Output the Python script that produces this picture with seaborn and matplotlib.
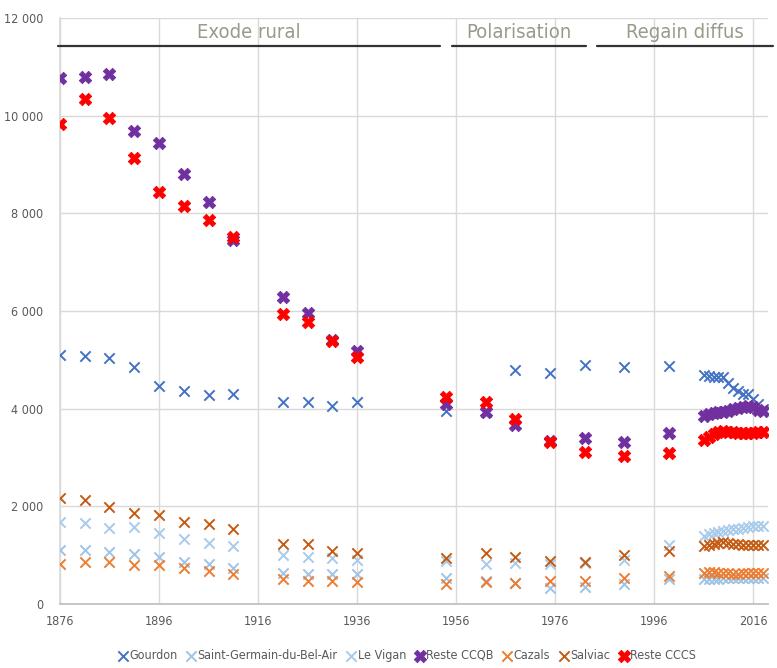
import matplotlib
matplotlib.use("Agg")
import matplotlib.pyplot as plt
from matplotlib import font_manager
from matplotlib.ticker import FuncFormatter
import pandas as pd
import seaborn as sns

years = [1876, 1881, 1886, 1891, 1896, 1901, 1906, 1911, 1921, 1926, 1931, 1936,
         1954, 1962, 1968, 1975, 1982, 1990, 1999,
         2006, 2007, 2008, 2009, 2010, 2011, 2012, 2013, 2014, 2015, 2016, 2017, 2018]

gourdon = [5100, 5085, 5030, 4860, 4460, 4360, 4280, 4300, 4135, 4130, 4060, 4130,
           3960, 3940, 4800, 4735, 4895, 4850, 4875,
           4690, 4660, 4640, 4650, 4640, 4530, 4430, 4360, 4300, 4310, 4200, 4090, 4000]
saint_germain = [1105, 1105, 1070, 1025, 970, 865, 815, 745, 630, 615, 615, 615,
                 525, 470, 425, 320, 340, 405, 505,
                 510, 515, 520, 520, 525, 525, 530, 530, 535, 535, 540, 540, 540]
le_vigan = [1685, 1650, 1565, 1570, 1460, 1330, 1255, 1190, 1005, 970, 935, 900,
            880, 815, 845, 815, 840, 900, 1210,
            1400, 1430, 1455, 1480, 1500, 1515, 1530, 1545, 1560, 1575, 1590, 1600, 1590]
reste_ccqb = [10770, 10785, 10850, 9690, 9435, 8805, 8240, 7455, 6280, 5955, 5405, 5180,
              4100, 3940, 3665, 3330, 3395, 3325, 3495,
              3860, 3900, 3920, 3930, 3930, 3950, 3990, 4010, 4040, 4050, 4030, 3980, 3960]
cazals = [820, 855, 865, 800, 800, 745, 675, 610, 505, 470, 480, 455,
          405, 455, 440, 470, 480, 540, 570,
          640, 650, 650, 640, 635, 625, 620, 620, 625, 630, 630, 625, 625]
salviac = [2170, 2130, 1995, 1855, 1825, 1685, 1640, 1535, 1230, 1220, 1085, 1050,
           935, 1040, 970, 885, 855, 1005, 1085,
           1190, 1210, 1230, 1250, 1260, 1250, 1230, 1220, 1210, 1210, 1210, 1210, 1200]
reste_cccs = [9825, 10335, 9960, 9130, 8445, 8150, 7865, 7520, 5940, 5780, 5385, 5065,
              4235, 4145, 3780, 3325, 3120, 3030, 3085,
              3360, 3420, 3490, 3530, 3550, 3530, 3520, 3510, 3500, 3500, 3510, 3520, 3530]

series_names = ["Gourdon", "Saint-Germain-du-Bel-Air", "Le Vigan", "Reste CCQB",
                "Cazals", "Salviac", "Reste CCCS"]
series_values = [gourdon, saint_germain, le_vigan, reste_ccqb, cazals, salviac, reste_cccs]
colors = ["#4472C4", "#9DC3E6", "#A9CBEB", "#7030A0", "#ED7D31", "#C55A11", "#FF0000"]
bold = [False, False, False, True, False, False, True]

phases = ["Exode rural", "Polarisation", "Regain diffus"]
phase_start = [1875.6, 1955.2, 1984.5]
phase_end = [1952.8, 1982.3, 2020.0]

# long table for seaborn
df = pd.concat([pd.DataFrame({"year": years, "pop": v, "serie": n})
                for n, v in zip(series_names, series_values)], ignore_index=True)

sns.set_theme(style="white")


def find_narrow_font():
    # pick a condensed face if one is installed
    paths = [f.fname for f in font_manager.fontManager.ttflist]
    for key in ["LiberationSansNarrow-Regular", "LiberationSansNarrow", "DejaVuSansCondensed.",
                "RobotoCondensed-Regular", "OpenSans_Condensed-Regular", "OpenSansCondensed"]:
        for p in paths:
            if key in p.split("/")[-1]:
                return p
    return None


narrow = find_narrow_font()
if narrow:
    prop = font_manager.FontProperties(fname=narrow)
else:
    prop = font_manager.FontProperties(family="DejaVu Sans", stretch="condensed")
plt.rcParams["font.family"] = ["DejaVu Sans"]

fig = plt.figure(figsize=(7.77, 6.68), dpi=100)
ax = fig.add_axes([0.0772, 0.0958, 0.9112, 0.8772])

for name, col, b in zip(series_names, colors, bold):
    sub = df[df["serie"] == name]
    if b:
        sns.scatterplot(data=sub, x="year", y="pop", ax=ax, marker="X", s=80,
                        color=col, edgecolor=col, linewidth=0.6, label=name, zorder=3)
    else:
        sns.scatterplot(data=sub, x="year", y="pop", ax=ax, marker="x", s=55,
                        color=col, linewidth=1.4, label=name, zorder=3)

ax.set_xlim(1876, 2019)
ax.set_ylim(0, 12000)
ax.set_xticks(range(1876, 2017, 20))
ax.set_yticks(range(0, 12001, 2000))
ax.yaxis.set_major_formatter(FuncFormatter(lambda v, p: f"{v:,.0f}".replace(",", " ")))
ax.grid(True, color="#D9D9D9", linewidth=1)
ax.set_axisbelow(True)
for s in ["top", "right"]:
    ax.spines[s].set_visible(False)
ax.spines["left"].set_color("#D9D9D9")
ax.spines["bottom"].set_color("#BFBFBF")
ax.tick_params(axis="both", length=0, labelcolor="#595959")
ax.tick_params(axis="y", pad=12)
ax.tick_params(axis="x", pad=8)
for t in ax.get_xticklabels() + ax.get_yticklabels():
    t.set_fontproperties(prop)
    t.set_fontsize(9)
ax.set_xlabel("")
ax.set_ylabel("")

for label, x0, x1 in zip(phases, phase_start, phase_end):
    ax.plot([x0, x1], [11430, 11430], color="#333333", lw=1.6, clip_on=False, zorder=4)
    ax.text((x0 + x1) / 2, 11500, label, ha="center", va="bottom", fontproperties=prop,
            fontsize=14.5, color="#9A9A8A", zorder=4)

leg_prop = prop.copy()
leg_prop.set_size(9)
ax.legend(loc="upper center", bbox_to_anchor=(0.49, -0.068), ncol=7, frameon=False,
          prop=leg_prop, labelcolor="#595959", handlelength=0.8, handletextpad=0.1,
          columnspacing=0.7, borderaxespad=0)

fig.savefig("out.png", dpi=100)
